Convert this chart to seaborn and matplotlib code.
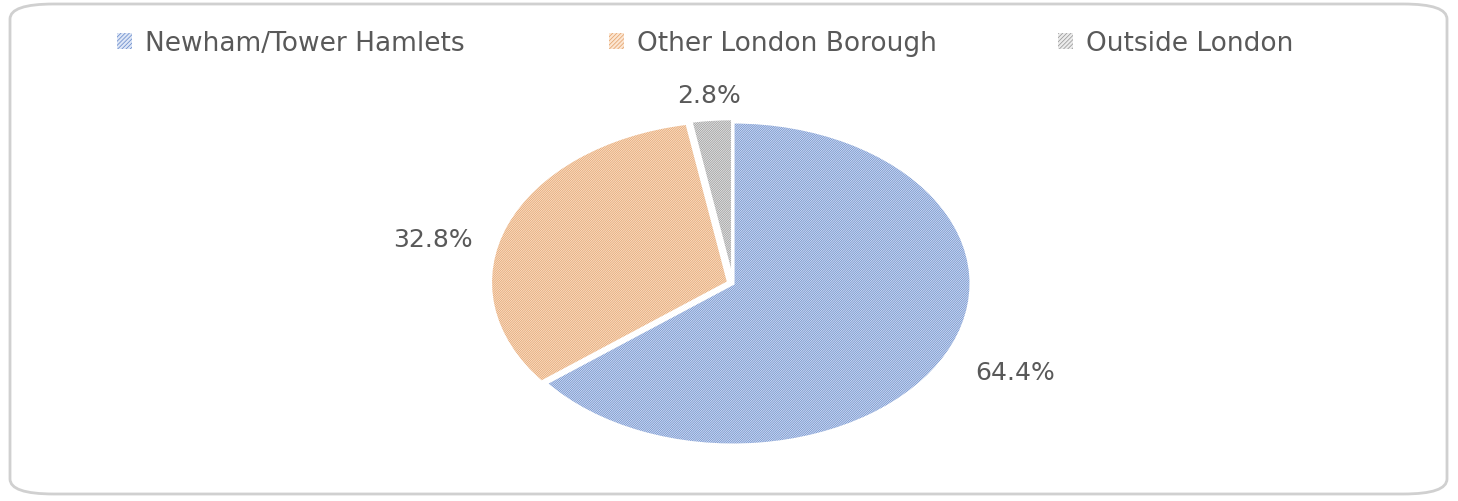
import numpy as np
import matplotlib
matplotlib.use("Agg")
import matplotlib.pyplot as plt
from matplotlib.patches import FancyBboxPatch, Patch
import seaborn as sns

# Where residents come from
categories = ["Newham/Tower Hamlets", "Other London Borough", "Outside London"]
shares = [64.4, 32.8, 2.8]
labels = ["64.4%", "32.8%", "2.8%"]

sns.set_theme(style="white")
plt.rcParams["font.family"] = ["DejaVu Sans"]
plt.rcParams["hatch.linewidth"] = 0.55

base = ["#dde6f6", "#fce6d2", "#ececec"]
hatch_col = ["#6b8dcc", "#e4a36d", "#999999"]
text_col = "#595959"

W, H = 1458, 502
fig = plt.figure(figsize=(W / 100, H / 100), dpi=100)
fig.patch.set_facecolor("white")

# rounded chart frame
frame = FancyBboxPatch((10 / W, 7 / H), 1437 / W, 490 / H,
                       boxstyle="round,pad=0,rounding_size=0.03",
                       transform=fig.transFigure, facecolor="white",
                       edgecolor="#d0d0d0", linewidth=2.0, zorder=-5)
fig.patches.append(frame)

ax = fig.add_axes([495 / W, 56 / H, 476 / W, 323 / H])
ax.set_zorder(2)
ax.set_facecolor("none")
explode = [0.0, 0.02, 0.02]

wedges, _ = ax.pie(shares, startangle=90, counterclock=False, explode=explode,
                   colors=base, radius=1.0, frame=False,
                   wedgeprops=dict(linewidth=0))
for w, hc in zip(wedges, hatch_col):
    w.set_hatch("/" * 15)
    w.set_edgecolor(hc)
    w.set_linewidth(0)

# white separators on top of the hatched wedges
outline, _ = ax.pie(shares, startangle=90, counterclock=False, explode=explode,
                    radius=1.0, frame=False,
                    wedgeprops=dict(fill=False, edgecolor="white", linewidth=2.2))

ax.set_aspect("auto")
ax.set_xlim(-1, 1)
ax.set_ylim(-1, 1)
ax.axis("off")

# percentage labels outside each wedge
dist = [1.32, 1.33, 1.17]
nudge = [(0.0, 0.03), (-0.02, -0.2), (0.0, 0.0)]
start = 90.0
for val, lab, d, (nx, ny) in zip(shares, labels, dist, nudge):
    span = val / sum(shares) * 360.0
    mid = np.deg2rad(start - span / 2)
    start -= span
    ax.text(d * np.cos(mid) + nx, d * np.sin(mid) + ny, lab,
            ha="center", va="center", fontsize=18, color=text_col,
            clip_on=False)

# legend: one entry per slice, spread across the top
entry_x = [117, 609, 1058]
for cat, b, hc, x in zip(categories, base, hatch_col, entry_x):
    h = Patch(facecolor=b, edgecolor=hc, hatch="/" * 8, linewidth=0)
    fig.legend([h], [cat], loc="center left", bbox_to_anchor=(x / W, (H - 44) / H),
               frameon=False, fontsize=19, labelcolor=text_col,
               handlelength=0.55, handleheight=0.55, handletextpad=0.5,
               borderpad=0, borderaxespad=0)

fig.savefig("out.png", dpi=100, facecolor="white")
